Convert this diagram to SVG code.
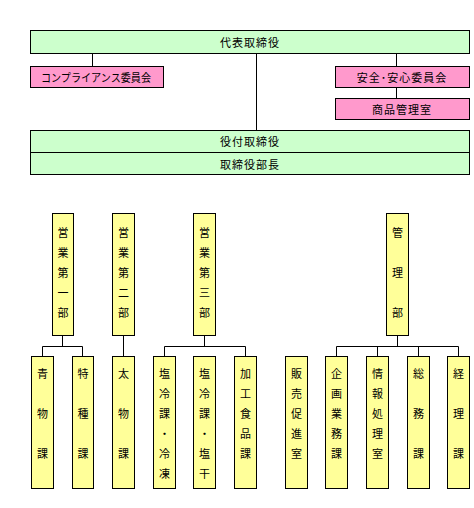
<svg xmlns="http://www.w3.org/2000/svg" width="474" height="508" viewBox="0 0 474 508">
<style>
.g{fill:#ccffcc;stroke:#000;stroke-width:1}
.p{fill:#ff99cc;stroke:#000;stroke-width:1}
.y{fill:#ffff99;stroke:#000;stroke-width:1}
text{font-family:"Noto Sans CJK JP","Noto Sans CJK SC",sans-serif;font-size:11px;fill:#000;text-anchor:middle;dominant-baseline:central}
.h{letter-spacing:1px}
#conn path{fill:none;stroke:#000;stroke-width:1}
</style>
<rect width="474" height="508" fill="#fff"/>
<g id="conn">
<path d="M92.5 53V66M396.5 53V66M396.5 87V98M256.5 53V130"/>
<path d="M62.5 335V346.5M42.5 356V346.5H82.5V356"/>
<path d="M123.5 335V356"/>
<path d="M204.5 335V346.5M164.5 356V346.5H245.5V356"/>
<path d="M397.5 335V346.5M336.5 356V346.5H458.5V356M377.5 346.5V356M418.5 346.5V356"/>
</g>
<g id="n-daihyo"><rect class="g" x="30.5" y="30.5" width="439" height="23"/><text class="h" x="250" y="42">代表取締役</text></g>
<g id="n-compliance"><rect class="p" x="30.5" y="66.5" width="133" height="21"/><text x="96" y="77" textLength="110" lengthAdjust="spacingAndGlyphs">コンプライアンス委員会</text></g>
<g id="n-anzen"><rect class="p" x="335.5" y="66.5" width="134" height="21"/><text class="h" x="402" y="77">安全･安心委員会</text></g>
<g id="n-shohin"><rect class="p" x="335.5" y="98.5" width="134" height="21"/><text class="h" x="402" y="109">商品管理室</text></g>
<g id="n-yakutsuki"><rect class="g" x="30.5" y="130.5" width="439" height="22"/><text class="h" x="250" y="141">役付取締役</text></g>
<g id="n-buchou"><rect class="g" x="30.5" y="152.5" width="439" height="22"/><text class="h" x="250" y="164">取締役部長</text></g>

<g id="n-eigyo1"><rect class="y" x="52.5" y="213.5" width="21" height="122"/>
<text x="63" y="232">営</text><text x="63" y="252">業</text><text x="63" y="272">第</text><text x="63" y="292">一</text><text x="63" y="312">部</text></g>
<g id="n-eigyo2"><rect class="y" x="112.5" y="213.5" width="22" height="122"/>
<text x="123.5" y="232">営</text><text x="123.5" y="252">業</text><text x="123.5" y="272">第</text><text x="123.5" y="292">二</text><text x="123.5" y="312">部</text></g>
<g id="n-eigyo3"><rect class="y" x="193.5" y="213.5" width="22" height="122"/>
<text x="204.5" y="232">営</text><text x="204.5" y="252">業</text><text x="204.5" y="272">第</text><text x="204.5" y="292">三</text><text x="204.5" y="312">部</text></g>
<g id="n-kanri"><rect class="y" x="386.5" y="213.5" width="22" height="122"/>
<text x="397.5" y="232">管</text><text x="397.5" y="272">理</text><text x="397.5" y="312">部</text></g>

<g id="n-aomono"><rect class="y" x="31.5" y="356.5" width="22" height="132"/>
<text x="42.5" y="373">青</text><text x="42.5" y="413">物</text><text x="42.5" y="453">課</text></g>
<g id="n-tokushu"><rect class="y" x="72.5" y="356.5" width="21" height="132"/>
<text x="83" y="373">特</text><text x="83" y="413">種</text><text x="83" y="453">課</text></g>
<g id="n-futomono"><rect class="y" x="112.5" y="356.5" width="22" height="132"/>
<text x="123.5" y="373">太</text><text x="123.5" y="413">物</text><text x="123.5" y="453">課</text></g>
<g id="n-enrei1"><rect class="y" x="153.5" y="356.5" width="22" height="132"/>
<text x="164.5" y="373">塩</text><text x="164.5" y="393">冷</text><text x="164.5" y="413">課</text><text x="164.5" y="433">・</text><text x="164.5" y="453">冷</text><text x="164.5" y="473">凍</text></g>
<g id="n-enrei2"><rect class="y" x="193.5" y="356.5" width="22" height="132"/>
<text x="204.5" y="373">塩</text><text x="204.5" y="393">冷</text><text x="204.5" y="413">課</text><text x="204.5" y="433">・</text><text x="204.5" y="453">塩</text><text x="204.5" y="473">干</text></g>
<g id="n-kakou"><rect class="y" x="234.5" y="356.5" width="22" height="132"/>
<text x="245.5" y="373">加</text><text x="245.5" y="393">工</text><text x="245.5" y="413">食</text><text x="245.5" y="433">品</text><text x="245.5" y="453">課</text></g>
<g id="n-hanbai"><rect class="y" x="285.5" y="356.5" width="22" height="132"/>
<text x="296.5" y="373">販</text><text x="296.5" y="393">売</text><text x="296.5" y="413">促</text><text x="296.5" y="433">進</text><text x="296.5" y="453">室</text></g>
<g id="n-kikaku"><rect class="y" x="325.5" y="356.5" width="22" height="132"/>
<text x="336.5" y="373">企</text><text x="336.5" y="393">画</text><text x="336.5" y="413">業</text><text x="336.5" y="433">務</text><text x="336.5" y="453">課</text></g>
<g id="n-joho"><rect class="y" x="366.5" y="356.5" width="22" height="132"/>
<text x="377.5" y="373">情</text><text x="377.5" y="393">報</text><text x="377.5" y="413">処</text><text x="377.5" y="433">理</text><text x="377.5" y="453">室</text></g>
<g id="n-somu"><rect class="y" x="407.5" y="356.5" width="22" height="132"/>
<text x="418.5" y="373">総</text><text x="418.5" y="413">務</text><text x="418.5" y="453">課</text></g>
<g id="n-keiri"><rect class="y" x="447.5" y="356.5" width="22" height="132"/>
<text x="458.5" y="373">経</text><text x="458.5" y="413">理</text><text x="458.5" y="453">課</text></g>
</svg>
